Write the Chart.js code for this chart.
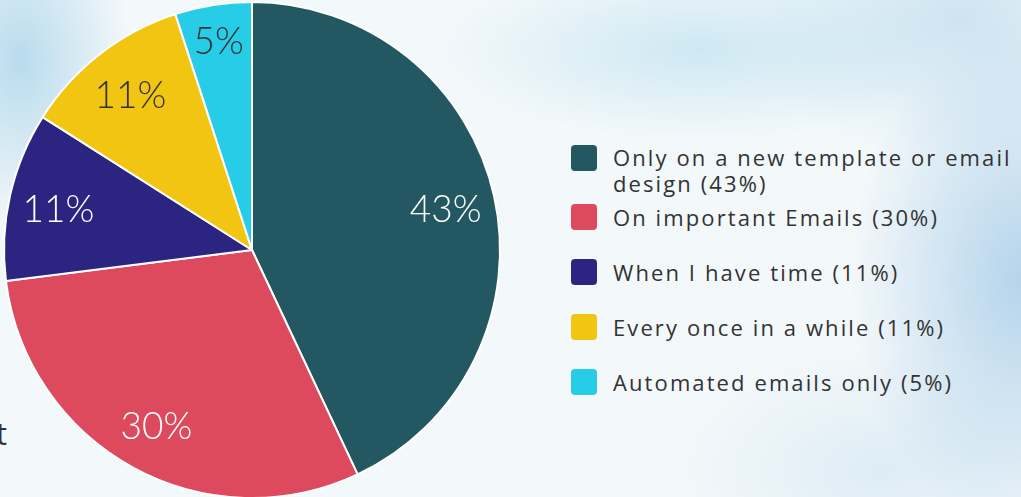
<!DOCTYPE html>
<html>
<head>
<meta charset="utf-8">
<script src="https://cdn.jsdelivr.net/npm/chart.js@4"></script>
<style>
  html, body { margin: 0; padding: 0; }
  body {
    width: 1021px; height: 497px; overflow: hidden; position: relative;
    background:
      radial-gradient(ellipse 110px 170px at 20px 60px, rgba(170,212,234,0.8), rgba(170,212,234,0) 100%),
      radial-gradient(ellipse 260px 90px at 700px 50px, rgba(190,225,240,0.7), rgba(190,225,240,0) 100%),
      radial-gradient(ellipse 170px 260px at 1021px 280px, rgba(160,200,230,0.75), rgba(160,200,230,0) 100%),
      radial-gradient(ellipse 220px 140px at 960px 20px, rgba(180,215,235,0.6), rgba(180,215,235,0) 100%),
      radial-gradient(ellipse 200px 120px at 880px 470px, rgba(200,225,240,0.5), rgba(200,225,240,0) 100%),
      #f3f8fa;
    font-family: "Open Sans", sans-serif;
  }
  #pieWrap { position: absolute; left: -8px; top: -10px; width: 520px; height: 520px; }
  #legend { position: absolute; left: 571px; top: 144px; margin: 0; padding: 0; list-style: none; }
  #legend li { position: relative; padding-left: 42px; color: #333; font-size: 22px; letter-spacing: 2.1px; line-height: 26px; margin-bottom: 29px; width: 420px; white-space: nowrap; }
  #legend li.first { margin-bottom: 8px; white-space: normal; }
  #legend .box { position: absolute; left: 0; top: 0; width: 26px; height: 26px; border-radius: 4px; }
  #legend li.first .box { top: 1px; }
  #cut { position: absolute; right: 1014px; top: 412px; font-size: 31px; color: #333; }
</style>
</head>
<body>
<div id="cut">t</div>
<div id="pieWrap"><canvas id="pie"></canvas></div>
<ul id="legend"></ul>
<script>
// Survey answers and their shares
const categories = [
  "Only on a new template or email design",
  "On important Emails",
  "When I have time",
  "Every once in a while",
  "Automated emails only"
];
const shares = [43, 30, 11, 11, 5];
const sliceColors = ["#235862", "#de4a5d", "#2b2480", "#f2c512", "#27cce6"];
const valueTextColors = ["#ffffff", "#ffffff", "#ffffff", "#333333", "#333333"];

// Percent labels inside each slice, placed along the slice's mid-angle
const sliceLabels = {
  id: "sliceLabels",
  afterDatasetsDraw(chart) {
    const ctx = chart.ctx;
    const meta = chart.getDatasetMeta(0);
    ctx.save();
    ctx.font = "300 37px Lato";
    ctx.textAlign = "center";
    ctx.textBaseline = "alphabetic";
    meta.data.forEach((arc, i) => {
      const p = arc.getProps(["x", "y", "startAngle", "endAngle", "outerRadius"], true);
      const mid = (p.startAngle + p.endAngle) / 2;
      const frac = shares[i] < 8 ? 0.86 : 0.8;
      const r = p.outerRadius * frac;
      ctx.fillStyle = valueTextColors[i];
      ctx.fillText(shares[i] + "%", p.x + Math.cos(mid) * r, p.y + Math.sin(mid) * r + 15);
    });
    ctx.restore();
  }
};

new Chart(document.getElementById("pie"), {
  type: "pie",
  data: {
    labels: categories,
    datasets: [{
      data: shares,
      backgroundColor: sliceColors,
      borderColor: "#ffffff",
      borderWidth: 2
    }]
  },
  options: {
    responsive: true,
    maintainAspectRatio: false,
    animation: false,
    layout: { padding: 11 },
    plugins: { legend: { display: false }, tooltip: { enabled: false } }
  },
  plugins: [sliceLabels]
});

// Legend list on the right
const legend = document.getElementById("legend");
categories.forEach((name, i) => {
  const li = document.createElement("li");
  if (i === 0) li.className = "first";
  const box = document.createElement("span");
  box.className = "box";
  box.style.background = sliceColors[i];
  li.appendChild(box);
  li.appendChild(document.createTextNode(name + " (" + shares[i] + "%)"));
  legend.appendChild(li);
});
</script>
</body>
</html>
